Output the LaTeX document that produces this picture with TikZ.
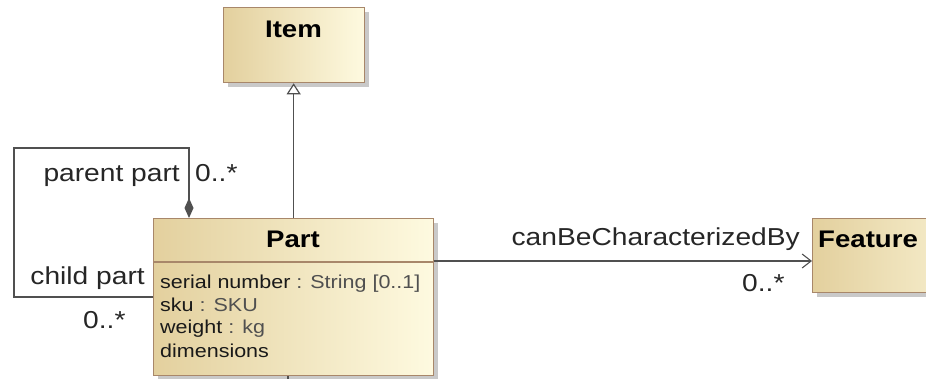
\documentclass[tikz,border=0pt]{standalone}
\usepackage{fontspec}
\newfontfamily\umlfont[FakeStretch=1.15]{Liberation Sans}
\usetikzlibrary{arrows.meta,shadows}
\definecolor{boxleft}{HTML}{E3D09E}
\definecolor{boxright}{HTML}{FEFAE0}
\definecolor{boxedge}{HTML}{A8876A}
\definecolor{linegray}{HTML}{505050}
\definecolor{typegray}{HTML}{505050}
\tikzset{
  classbox/.style={draw=boxedge, line width=1.3pt, left color=boxleft, right color=boxright,
    inner sep=0pt, anchor=north west,
    drop shadow={shadow xshift=4pt, shadow yshift=-4pt, fill=black!30, opacity=0.7}},
  classname/.style={font=\umlfont\bfseries\fontsize{24}{28}\selectfont, inner sep=0pt, anchor=base},
  rolelabel/.style={font=\umlfont\fontsize{24.5}{28}\selectfont, text=black!85, inner sep=0pt},
  attr/.style={font=\umlfont\fontsize{18.7}{22}\selectfont, text=black!90, inner sep=0pt, anchor=base west},
  link/.style={draw=linegray, line width=1.4pt},
}
\begin{document}
\begin{tikzpicture}[x=1pt,y=-1pt]
\useasboundingbox (0,0) rectangle (926,379);
\clip (0,0) rectangle (926,379);

% classes
\node[classbox, minimum width=141pt, minimum height=75pt] (item) at (223,7) {};
\node[classbox, minimum width=280pt, minimum height=157pt] (part) at (153,218) {};
\node[classbox, minimum width=200pt, minimum height=74pt] (feature) at (812,218) {};

% compartment divider of Part
\draw[boxedge, line width=1.3pt] ([yshift=-44pt]part.north west) -- ([yshift=-44pt]part.north east);

% class names
\node[classname] (itemname) at (293.5,38) {Item};
\node[classname] (partname) at (293,248) {Part};
\node[classname, anchor=base west] (featurename) at (818,248) {Feature};

% attributes of Part
\node[attr] (attr1) at (160,288) {serial number \textcolor{typegray}{: String [0..1]}};
\node[attr] (attr2) at (160,311) {sku \textcolor{typegray}{: SKU}};
\node[attr] (attr3) at (160,334) {weight \textcolor{typegray}{: kg}};
\node[attr] (attr4) at (160,357) {dimensions};

% generalization Part -> Item
\draw[link, -{Triangle[open, length=11pt, width=14pt, fill=white, line width=1.2pt]}]
  (part.north) -- (part.north |- item.south);

% composition loop: parent part / child part
\coordinate (loopcorner) at (14,148);
\draw[link, {Diamond[length=20pt, width=9pt, fill=linegray]}-]
  ([xshift=36pt]part.north west) |- (loopcorner) |- (part.west);

% association Part -> Feature
\coordinate (assocrow) at (0,261);
\draw[link, -{Straight Barb[length=9pt, width=14pt, line width=1.1pt]}]
  (part.east |- assocrow) -- (feature.west |- assocrow);

% connector leaving Part at the bottom
\coordinate (below) at (288,390);
\draw[link] (below |- part.south) -- (below);

% role names and multiplicities
\node[rolelabel, anchor=base east] (parentrole) at (180,182) {parent part};
\node[rolelabel, anchor=base west] (parentmult) at (195,182) {0..*};
\node[rolelabel, anchor=base east] (childrole) at (145,285) {child part};
\node[rolelabel, anchor=base west] (childmult) at (83,328) {0..*};
\node[rolelabel, anchor=base east] (featrole) at (800,246) {canBeCharacterizedBy};
\node[rolelabel, anchor=base west] (featmult) at (742,291) {0..*};
\end{tikzpicture}
\end{document}
